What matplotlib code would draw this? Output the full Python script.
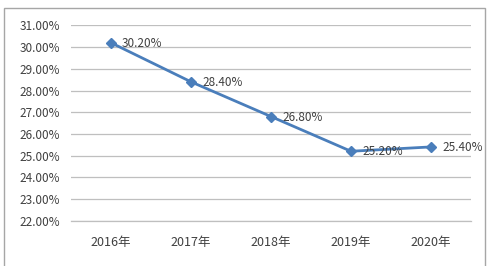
import matplotlib
matplotlib.use("Agg")
import matplotlib.pyplot as plt
from matplotlib.patches import Rectangle
from matplotlib.ticker import FuncFormatter, MultipleLocator

plt.rcParams['font.family'] = ['Noto Sans CJK SC', 'DejaVu Sans']

years = ["2016年", "2017年", "2018年", "2019年", "2020年"]
values = [30.20, 28.40, 26.80, 25.20, 25.40]

W, H = 496, 266
fig = plt.figure(figsize=(W / 100, H / 100), dpi=100)
fig.patch.set_facecolor("white")

# chart frame
fig.patches.append(Rectangle((4 / W, -0.1), (485 - 4) / W, 1.1 - 8 / H,
                             transform=fig.transFigure, fill=False,
                             edgecolor="#A6A6A6", linewidth=1.0))

ax = fig.add_axes([71 / W, 1 - 220.7 / H, 400 / W, (220.7 - 25.4) / H])
x = list(range(len(years)))
ax.plot(x, values, color="#4A7EBB", linewidth=2.0, marker="D", markersize=5,
        markerfacecolor="#4A7EBB", markeredgecolor="#4A7EBB", zorder=3)
for xi, v in zip(x, values):
    ax.annotate(f"{v:.2f}%", (xi, v), xytext=(8, -0.5), textcoords="offset points",
                va="center", ha="left", fontsize=8.5, color="#404040")

ax.set_xlim(-0.5, len(years) - 0.5)
ax.set_ylim(22, 31)
ax.yaxis.set_major_locator(MultipleLocator(1))
ax.yaxis.set_major_formatter(FuncFormatter(lambda v, p: f"{v:.2f}%"))
ax.set_xticks(x)
ax.set_xticklabels(years)
ax.grid(axis="y", color="#BFBFBF", linewidth=0.9)
ax.set_axisbelow(True)
for s in ["top", "right", "left"]:
    ax.spines[s].set_visible(False)
ax.spines["bottom"].set_color("#BFBFBF")
ax.spines["bottom"].set_linewidth(0.9)
ax.tick_params(axis="y", length=0, labelsize=8.5, colors="#404040", pad=8)
ax.tick_params(axis="x", length=0, labelsize=9, colors="#404040", pad=11)

fig.savefig("out.png", dpi=100, facecolor="white")
